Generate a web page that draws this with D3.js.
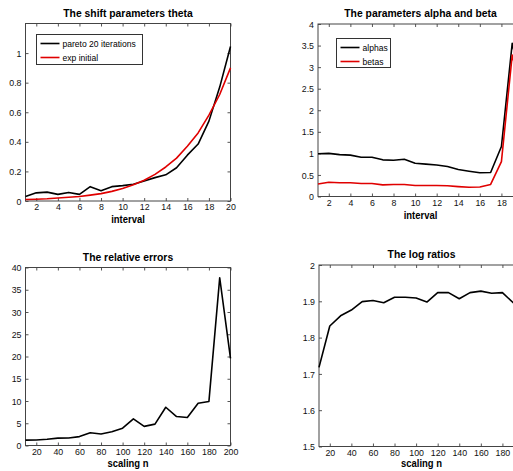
<!DOCTYPE html>
<html>
<head>
<meta charset="utf-8">
<script src="https://cdn.jsdelivr.net/npm/d3@7"></script>
<style>
  body { margin: 0; background: white; }
  svg { display: block; font-family: "Liberation Sans", Arial, sans-serif; }
</style>
</head>
<body>
<div id="chart"></div>
<script>
let width = 513, height = 471;

// data
let intervals = [1, 2, 3, 4, 5, 6, 7, 8, 9, 10, 11, 12, 13, 14, 15, 16, 17, 18, 19, 20];
let thetaPareto = [0.03, 0.055, 0.06, 0.045, 0.058, 0.045, 0.097, 0.07, 0.097, 0.104,
                   0.113, 0.135, 0.158, 0.177, 0.225, 0.31, 0.385, 0.54, 0.77, 1.045];
let thetaExp = [0.01, 0.012, 0.015, 0.02, 0.025, 0.03, 0.04, 0.05, 0.065, 0.085,
                0.11, 0.14, 0.18, 0.23, 0.29, 0.37, 0.46, 0.58, 0.72, 0.9];
let alphas = [0.99, 1.0, 0.97, 0.96, 0.91, 0.91, 0.85, 0.84, 0.865, 0.77,
              0.75, 0.73, 0.695, 0.625, 0.587, 0.55, 0.556, 1.16, 3.55, 2.5];
let betas = [0.29, 0.33, 0.32, 0.32, 0.30, 0.30, 0.27, 0.28, 0.28, 0.255,
             0.255, 0.255, 0.25, 0.23, 0.215, 0.22, 0.28, 0.81, 3.28, 2.3];

let scalingN = [10, 20, 30, 40, 50, 60, 70, 80, 90, 100, 110, 120, 130, 140, 150, 160, 170, 180, 190, 200];
let relErrors = [1.2, 1.25, 1.4, 1.65, 1.7, 2.0, 2.85, 2.6, 3.1, 3.9,
                 6.0, 4.3, 4.8, 8.6, 6.5, 6.3, 9.5, 9.9, 37.7, 19.6];
let logRatios = [1.718, 1.832, 1.86, 1.876, 1.899, 1.902, 1.896, 1.911, 1.911, 1.909,
                 1.898, 1.924, 1.924, 1.907, 1.924, 1.928, 1.922, 1.924, 1.896, 1.88];

let intervalTicks = [2, 4, 6, 8, 10, 12, 14, 16, 18, 20];
let scalingTicks = [20, 40, 60, 80, 100, 120, 140, 160, 180, 200];
// right-hand panels run past the picture's edge, last tick is not visible
let intervalTicksRight = [2, 4, 6, 8, 10, 12, 14, 16, 18];
let scalingTicksRight = [20, 40, 60, 80, 100, 120, 140, 160, 180];
let thetaTicks = [0, 0.2, 0.4, 0.6, 0.8, 1];
let alphaTicks = [0, 0.5, 1, 1.5, 2, 2.5, 3, 3.5, 4];
let errorTicks = [0, 5, 10, 15, 20, 25, 30, 35, 40];
let ratioTicks = [1.5, 1.6, 1.7, 1.8, 1.9, 2];

let svg = d3.select('#chart')
  .append('svg')
  .attr('width', width)
  .attr('height', height)
  .style('background', 'white');

// the picture is slightly squashed horizontally
function squeeze(sel) {
  sel.each(function() {
    let len = this.getComputedTextLength();
    if (len > 0) {
      d3.select(this).attr('textLength', len * 0.9).attr('lengthAdjust', 'spacingAndGlyphs');
    }
  });
}

function drawPanel(p) {
  let xscale = d3.scaleLinear().domain(p.xDomain).range([p.left, p.right]);
  let yscale = d3.scaleLinear().domain(p.yDomain).range([p.bottom, p.top]);
  let g = svg.append('g');

  let fmt = d => String(d);

  g.append('g')
    .attr('transform', `translate(0, ${p.bottom})`)
    .call(d3.axisBottom(xscale).tickValues(p.xTicks).tickFormat(fmt).tickSizeInner(-3).tickSizeOuter(0).tickPadding(2.5));
  g.append('g')
    .attr('transform', `translate(0, ${p.top})`)
    .call(d3.axisTop(xscale).tickValues(p.xTicks).tickFormat('').tickSizeInner(-3).tickSizeOuter(0));
  g.append('g')
    .attr('transform', `translate(${p.left}, 0)`)
    .call(d3.axisLeft(yscale).tickValues(p.yTicks).tickFormat(fmt).tickSizeInner(-3).tickSizeOuter(0).tickPadding(4));
  g.append('g')
    .attr('transform', `translate(${p.right}, 0)`)
    .call(d3.axisRight(yscale).tickValues(p.yTicks).tickFormat('').tickSizeInner(-3).tickSizeOuter(0));

  g.selectAll('.domain').remove();
  g.selectAll('.tick line').attr('stroke', '#555');
  g.selectAll('.tick text')
    .attr('fill', '#111')
    .style('font-size', '9.8px')
    .call(squeeze);

  g.append('rect')
    .attr('x', p.left)
    .attr('y', p.top)
    .attr('width', p.right - p.left)
    .attr('height', p.bottom - p.top)
    .attr('fill', 'none')
    .attr('stroke', '#444')
    .attr('stroke-width', 1);

  p.series.forEach(s => {
    let line = d3.line()
      .x((d, i) => xscale(p.xValues[i]))
      .y(d => yscale(d));
    g.append('path')
      .datum(s.values)
      .attr('d', line)
      .attr('fill', 'none')
      .attr('stroke', s.color)
      .attr('stroke-width', 1.6)
      .attr('stroke-linejoin', 'round');
  });

  let cx = (p.left + p.right) / 2;
  g.append('text')
    .text(p.title)
    .attr('x', cx)
    .attr('y', p.top - 7)
    .attr('text-anchor', 'middle')
    .style('font-size', '11.5px')
    .style('font-weight', 'bold')
    .call(squeeze);

  g.append('text')
    .text(p.xLabel)
    .attr('x', cx)
    .attr('y', p.bottom + p.labelGap)
    .attr('text-anchor', 'middle')
    .style('font-size', '10.5px')
    .style('font-weight', 'bold')
    .call(squeeze);

  if (p.legend) {
    let L = p.legend;
    let lg = g.append('g');
    lg.append('rect')
      .attr('x', L.x).attr('y', L.y)
      .attr('width', L.w).attr('height', L.h)
      .attr('fill', 'white')
      .attr('stroke', '#333');
    p.series.forEach((s, i) => {
      let yy = L.y + 9 + i * 14;
      lg.append('line')
        .attr('x1', L.x + 4).attr('x2', L.x + 23)
        .attr('y1', yy).attr('y2', yy)
        .attr('stroke', s.color)
        .attr('stroke-width', 1.6);
      lg.append('text')
        .text(s.name)
        .attr('x', L.x + 26)
        .attr('y', yy + 3)
        .style('font-size', '9.5px')
        .call(squeeze);
    });
  }
}

drawPanel({
  left: 25.5, right: 230.5, top: 23.5, bottom: 201,
  xDomain: [1, 20], yDomain: [0, 1.2],
  xValues: intervals, xTicks: intervalTicks, yTicks: thetaTicks,
  title: 'The shift parameters theta', xLabel: 'interval', labelGap: 22,
  series: [
    { name: 'pareto 20 iterations', values: thetaPareto, color: '#000' },
    { name: 'exp initial', values: thetaExp, color: '#e00000' }
  ],
  legend: { x: 36.5, y: 34.5, w: 106, h: 30 }
});

drawPanel({
  left: 318, right: 523, top: 24, bottom: 196.5,
  xDomain: [1, 20], yDomain: [0, 4],
  xValues: intervals, xTicks: intervalTicksRight, yTicks: alphaTicks,
  title: 'The parameters alpha and beta', xLabel: 'interval', labelGap: 22,
  series: [
    { name: 'alphas', values: alphas, color: '#000' },
    { name: 'betas', values: betas, color: '#e00000' }
  ],
  legend: { x: 336.5, y: 38.5, w: 54, h: 29 }
});

drawPanel({
  left: 25.5, right: 230.5, top: 267.5, bottom: 445.5,
  xDomain: [10, 200], yDomain: [0, 40],
  xValues: scalingN, xTicks: scalingTicks, yTicks: errorTicks,
  title: 'The relative errors', xLabel: 'scaling n', labelGap: 21,
  series: [{ name: 'errors', values: relErrors, color: '#000' }]
});

drawPanel({
  left: 319, right: 524, top: 265, bottom: 446.5,
  xDomain: [10, 200], yDomain: [1.5, 2],
  xValues: scalingN, xTicks: scalingTicksRight, yTicks: ratioTicks,
  title: 'The log ratios', xLabel: 'scaling n', labelGap: 20,
  series: [{ name: 'ratios', values: logRatios, color: '#000' }]
});
</script>
</body>
</html>
